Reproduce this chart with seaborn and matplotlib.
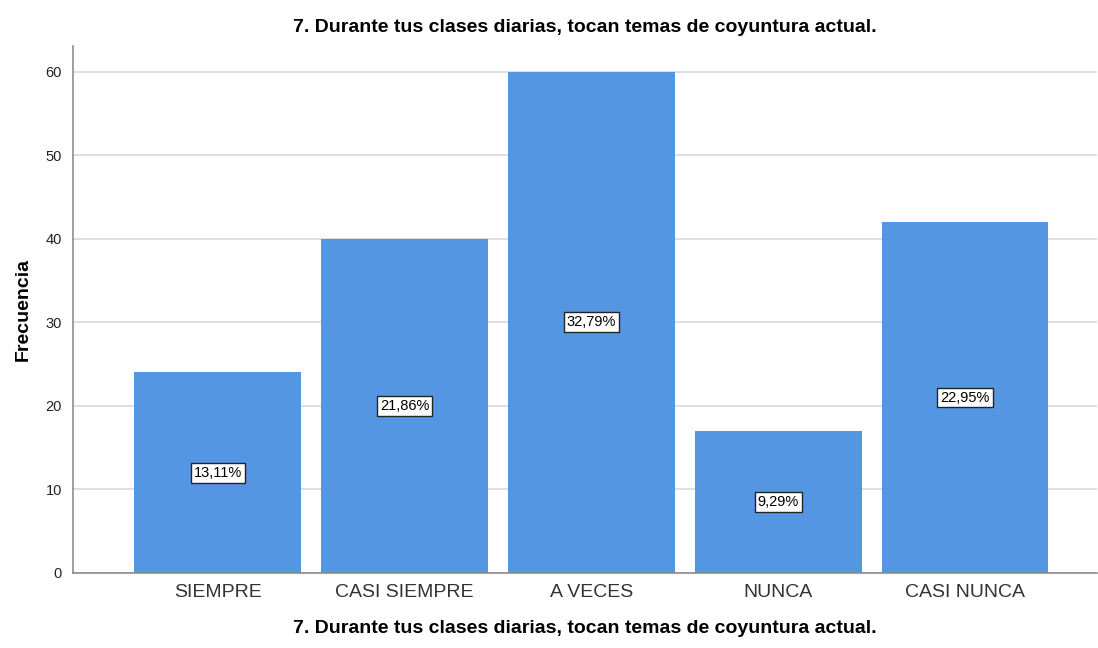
import matplotlib
matplotlib.use('Agg')
import matplotlib.pyplot as plt
import seaborn as sns
import pandas as pd

# Data
categorias  = ['SIEMPRE', 'CASI SIEMPRE', 'A VECES', 'NUNCA', 'CASI NUNCA']
frecuencias = [24, 40, 60, 17, 42]
y_ticks     = [0, 10, 20, 30, 40, 50, 60]

titulo  = '7. Durante tus clases diarias, tocan temas de coyuntura actual.'
x_l     = '7. Durante tus clases diarias, tocan temas de coyuntura actual.'
y_l     = 'Frecuencia'

# Colors
bar_c   = '#5596e3'
grid_c  = '#d9d9d9'
axis_c  = '#8c8c8c'

sns.set_style('white')
plt.rcParams['font.family'] = ['Liberation Sans', 'DejaVu Sans']

df = pd.DataFrame({'cat': categorias, 'n': frecuencias})
total = sum(frecuencias)

fig, ax = plt.subplots(figsize=(10.98, 6.48), dpi=100)
fig.subplots_adjust(left=0.0665, right=0.999, top=0.929, bottom=0.116)

ax.set_axisbelow(True)
ax.yaxis.grid(True, color=grid_c, lw=1.2)

sns.barplot(data=df, x='cat', y='n', color=bar_c, saturation=1,
            width=0.893, linewidth=0, ax=ax)

# Percent labels in the middle of each bar
for i, n in enumerate(frecuencias):
    pct = f'{100 * n / total:.2f}%'.replace('.', ',')
    ax.text(i, n / 2, pct, ha='center', va='center', fontsize=10.5,
            color='black',
            bbox=dict(boxstyle='square,pad=0.2', fc='white',
                      ec='#222222', lw=1))

ax.set_xlim(-0.775, 4.706)
ax.set_ylim(0, 63.1)
ax.set_yticks(y_ticks)
ax.tick_params(axis='y', labelsize=10.5, colors='#222222', length=0, pad=8)
ax.tick_params(axis='x', labelsize=14, colors='#333333', length=0, pad=8)

for s in ['top', 'right']:
    ax.spines[s].set_visible(False)
ax.spines['left'].set_color(axis_c)
ax.spines['bottom'].set_color(axis_c)
ax.spines['left'].set_linewidth(1.2)
ax.spines['bottom'].set_linewidth(1.2)

ax.set_xlabel(x_l, fontsize=14, fontweight='bold', labelpad=14, color='black')
ax.set_ylabel(y_l, fontsize=14, fontweight='bold', labelpad=10, color='black')
ax.set_title(titulo, fontsize=14, fontweight='bold', pad=10, color='black')

plt.savefig('out.png', dpi=100)
plt.close(fig)
